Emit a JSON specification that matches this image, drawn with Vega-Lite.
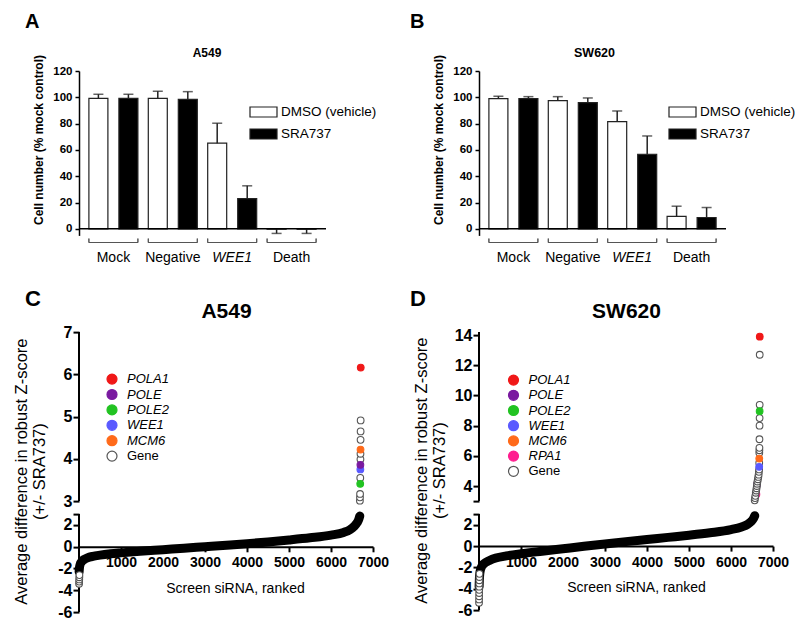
{
  "$schema": "https://vega.github.io/schema/vega-lite/v6.json",
  "padding": {"left": 12, "top": 12, "right": 5, "bottom": 5},
  "config": {
    "font": "Liberation Sans",
    "view": {"stroke": null},
    "axis": {"grid": false, "domainColor": "#000", "tickColor": "#000", "labelColor": "#000", "titleColor": "#000", "labelOverlap": false},
    "legend": {"labelColor": "#000"},
    "title": {"color": "#000"}
  },
  "datasets": {
    "bars": [
      {"cell": "A549", "group": "Mock", "treatment": "DMSO (vehicle)", "value": 99.2, "err_end": 102.3},
      {"cell": "A549", "group": "Mock", "treatment": "SRA737", "value": 99.2, "err_end": 102.3},
      {"cell": "A549", "group": "Negative", "treatment": "DMSO (vehicle)", "value": 99.2, "err_end": 104.6},
      {"cell": "A549", "group": "Negative", "treatment": "SRA737", "value": 98.5, "err_end": 104.3},
      {"cell": "A549", "group": "WEE1", "treatment": "DMSO (vehicle)", "value": 65.1, "err_end": 80.3},
      {"cell": "A549", "group": "WEE1", "treatment": "SRA737", "value": 23.0, "err_end": 32.7},
      {"cell": "A549", "group": "Death", "treatment": "DMSO (vehicle)", "value": -0.3, "err_end": -3.5},
      {"cell": "A549", "group": "Death", "treatment": "SRA737", "value": -0.3, "err_end": -3.5},
      {"cell": "SW620", "group": "Mock", "treatment": "DMSO (vehicle)", "value": 99.0, "err_end": 100.8},
      {"cell": "SW620", "group": "Mock", "treatment": "SRA737", "value": 99.0, "err_end": 100.5},
      {"cell": "SW620", "group": "Negative", "treatment": "DMSO (vehicle)", "value": 97.5, "err_end": 100.5},
      {"cell": "SW620", "group": "Negative", "treatment": "SRA737", "value": 96.0, "err_end": 99.5},
      {"cell": "SW620", "group": "WEE1", "treatment": "DMSO (vehicle)", "value": 81.5, "err_end": 89.6},
      {"cell": "SW620", "group": "WEE1", "treatment": "SRA737", "value": 56.7, "err_end": 70.6},
      {"cell": "SW620", "group": "Death", "treatment": "DMSO (vehicle)", "value": 9.4, "err_end": 17.2},
      {"cell": "SW620", "group": "Death", "treatment": "SRA737", "value": 8.6, "err_end": 16.2}
    ],
    "curve": [
      {"cell": "A549", "rank": 3, "z": -2.3}, {"cell": "A549", "rank": 10, "z": -1.95}, {"cell": "A549", "rank": 25, "z": -1.65},
      {"cell": "A549", "rank": 60, "z": -1.38}, {"cell": "A549", "rank": 120, "z": -1.17}, {"cell": "A549", "rank": 200, "z": -1.02},
      {"cell": "A549", "rank": 330, "z": -0.88}, {"cell": "A549", "rank": 500, "z": -0.77}, {"cell": "A549", "rank": 750, "z": -0.65},
      {"cell": "A549", "rank": 1000, "z": -0.56}, {"cell": "A549", "rank": 1450, "z": -0.42}, {"cell": "A549", "rank": 2000, "z": -0.27},
      {"cell": "A549", "rank": 2500, "z": -0.13}, {"cell": "A549", "rank": 3000, "z": 0.0}, {"cell": "A549", "rank": 3600, "z": 0.16},
      {"cell": "A549", "rank": 4000, "z": 0.28}, {"cell": "A549", "rank": 4500, "z": 0.44}, {"cell": "A549", "rank": 5000, "z": 0.62},
      {"cell": "A549", "rank": 5500, "z": 0.82}, {"cell": "A549", "rank": 6000, "z": 1.07}, {"cell": "A549", "rank": 6300, "z": 1.32},
      {"cell": "A549", "rank": 6450, "z": 1.57}, {"cell": "A549", "rank": 6550, "z": 1.87}, {"cell": "A549", "rank": 6620, "z": 2.2},
      {"cell": "A549", "rank": 6660, "z": 2.5}, {"cell": "A549", "rank": 6685, "z": 2.82},
      {"cell": "SW620", "rank": 3, "z": -3.8}, {"cell": "SW620", "rank": 10, "z": -3.0}, {"cell": "SW620", "rank": 25, "z": -2.4},
      {"cell": "SW620", "rank": 60, "z": -1.95}, {"cell": "SW620", "rank": 120, "z": -1.65}, {"cell": "SW620", "rank": 250, "z": -1.35},
      {"cell": "SW620", "rank": 400, "z": -1.12}, {"cell": "SW620", "rank": 650, "z": -0.92}, {"cell": "SW620", "rank": 1000, "z": -0.72},
      {"cell": "SW620", "rank": 1500, "z": -0.48}, {"cell": "SW620", "rank": 2000, "z": -0.25}, {"cell": "SW620", "rank": 2500, "z": -0.02},
      {"cell": "SW620", "rank": 3000, "z": 0.2}, {"cell": "SW620", "rank": 3500, "z": 0.42}, {"cell": "SW620", "rank": 4000, "z": 0.62},
      {"cell": "SW620", "rank": 4500, "z": 0.82}, {"cell": "SW620", "rank": 5000, "z": 1.02}, {"cell": "SW620", "rank": 5500, "z": 1.25},
      {"cell": "SW620", "rank": 6000, "z": 1.55}, {"cell": "SW620", "rank": 6250, "z": 1.8}, {"cell": "SW620", "rank": 6400, "z": 2.05},
      {"cell": "SW620", "rank": 6480, "z": 2.3}, {"cell": "SW620", "rank": 6530, "z": 2.55}, {"cell": "SW620", "rank": 6565, "z": 2.85}
    ],
    "points": [
      {"cell": "A549", "rank": 2, "z": -3.4, "gene": "Gene"}, {"cell": "A549", "rank": 4, "z": -3.2, "gene": "Gene"},
      {"cell": "A549", "rank": 6, "z": -3.0, "gene": "Gene"}, {"cell": "A549", "rank": 8, "z": -2.8, "gene": "Gene"},
      {"cell": "A549", "rank": 10, "z": -2.6, "gene": "Gene"},
      {"cell": "A549", "rank": 6688, "z": 3.01, "gene": "Gene"}, {"cell": "A549", "rank": 6690, "z": 3.09, "gene": "Gene"},
      {"cell": "A549", "rank": 6692, "z": 3.17, "gene": "Gene"}, {"cell": "A549", "rank": 6697, "z": 3.55, "gene": "Gene"},
      {"cell": "A549", "rank": 6701, "z": 3.99, "gene": "Gene"}, {"cell": "A549", "rank": 6702, "z": 4.12, "gene": "Gene"},
      {"cell": "A549", "rank": 6704, "z": 4.45, "gene": "Gene"}, {"cell": "A549", "rank": 6705, "z": 4.65, "gene": "Gene"},
      {"cell": "A549", "rank": 6706, "z": 4.91, "gene": "Gene"},
      {"cell": "A549", "rank": 6696, "z": 3.41, "gene": "POLE2"}, {"cell": "A549", "rank": 6699, "z": 3.75, "gene": "WEE1"},
      {"cell": "A549", "rank": 6700, "z": 3.86, "gene": "POLE"}, {"cell": "A549", "rank": 6703, "z": 4.22, "gene": "MCM6"},
      {"cell": "A549", "rank": 6708, "z": 6.16, "gene": "POLA1"},
      {"cell": "SW620", "rank": 6620, "z": 4.1, "gene": "POLE"}, {"cell": "SW620", "rank": 6605, "z": 3.45, "gene": "RPA1"},
      {"cell": "SW620", "rank": 1, "z": -5.3, "gene": "Gene"}, {"cell": "SW620", "rank": 2, "z": -5.0, "gene": "Gene"},
      {"cell": "SW620", "rank": 3, "z": -4.7, "gene": "Gene"}, {"cell": "SW620", "rank": 4, "z": -4.4, "gene": "Gene"},
      {"cell": "SW620", "rank": 5, "z": -4.1, "gene": "Gene"}, {"cell": "SW620", "rank": 6, "z": -3.8, "gene": "Gene"},
      {"cell": "SW620", "rank": 7, "z": -3.5, "gene": "Gene"}, {"cell": "SW620", "rank": 8, "z": -3.2, "gene": "Gene"},
      {"cell": "SW620", "rank": 10, "z": -2.9, "gene": "Gene"}, {"cell": "SW620", "rank": 12, "z": -2.6, "gene": "Gene"},
      {"cell": "SW620", "rank": 6564, "z": 3.05, "gene": "Gene"}, {"cell": "SW620", "rank": 6572, "z": 3.2, "gene": "Gene"},
      {"cell": "SW620", "rank": 6580, "z": 3.35, "gene": "Gene"}, {"cell": "SW620", "rank": 6590, "z": 3.55, "gene": "Gene"},
      {"cell": "SW620", "rank": 6600, "z": 3.7, "gene": "Gene"}, {"cell": "SW620", "rank": 6608, "z": 3.85, "gene": "Gene"},
      {"cell": "SW620", "rank": 6615, "z": 4.0, "gene": "Gene"}, {"cell": "SW620", "rank": 6622, "z": 4.15, "gene": "Gene"},
      {"cell": "SW620", "rank": 6630, "z": 4.3, "gene": "Gene"}, {"cell": "SW620", "rank": 6640, "z": 4.45, "gene": "Gene"},
      {"cell": "SW620", "rank": 6650, "z": 4.6, "gene": "Gene"}, {"cell": "SW620", "rank": 6658, "z": 4.75, "gene": "Gene"},
      {"cell": "SW620", "rank": 6664, "z": 4.94, "gene": "Gene"}, {"cell": "SW620", "rank": 6670, "z": 5.1, "gene": "Gene"},
      {"cell": "SW620", "rank": 6672, "z": 5.53, "gene": "Gene"}, {"cell": "SW620", "rank": 6674, "z": 6.2, "gene": "Gene"},
      {"cell": "SW620", "rank": 6676, "z": 6.37, "gene": "Gene"}, {"cell": "SW620", "rank": 6677, "z": 6.53, "gene": "Gene"},
      {"cell": "SW620", "rank": 6678, "z": 7.1, "gene": "Gene"}, {"cell": "SW620", "rank": 6680, "z": 8.0, "gene": "Gene"},
      {"cell": "SW620", "rank": 6681, "z": 8.5, "gene": "Gene"}, {"cell": "SW620", "rank": 6683, "z": 9.38, "gene": "Gene"},
      {"cell": "SW620", "rank": 6684, "z": 12.7, "gene": "Gene"},
      {"cell": "SW620", "rank": 6671, "z": 5.27, "gene": "WEE1"}, {"cell": "SW620", "rank": 6673, "z": 5.82, "gene": "MCM6"},
      {"cell": "SW620", "rank": 6682, "z": 8.96, "gene": "POLE2"}, {"cell": "SW620", "rank": 6685, "z": 13.9, "gene": "POLA1"}
    ]
  },
  "columns": 2,
  "bounds": "flush",
  "align": "each",
  "spacing": {"row": 96.1, "column": 106},
  "resolve": {"scale": {"fill": "independent", "stroke": "independent"}},
  "concat": [
    {
      "width": 247, "height": 164.4,
      "title": {"text": "A", "anchor": "start", "frame": "group", "dx": -54, "fontSize": 20, "fontWeight": "bold", "baseline": "alphabetic", "offset": -2},
      "data": {"name": "bars"},
      "transform": [{"filter": "datum.cell === 'A549'"}],
      "resolve": {"scale": {"x": "independent"}},
      "layer": [
        {
          "layer": [
            {
              "mark": {"type": "bar", "stroke": "#222", "strokeWidth": 1.2},
              "encoding": {
                "x": {"field": "group", "type": "nominal", "sort": null, "scale": {"paddingInner": 0.175, "paddingOuter": 0.1666},
                  "axis": {"orient": "bottom", "title": null, "domain": false, "ticks": false, "labelPadding": 15, "labelFontSize": 14, "labelAngle": 0, "labelBaseline": "top",
                    "labelFontStyle": {"condition": {"test": "datum.value === 'WEE1'", "value": "italic"}, "value": "normal"}}},
                "xOffset": {"field": "treatment", "type": "nominal", "sort": null, "scale": {"paddingInner": 0.367, "paddingOuter": 0}},
                "y": {"field": "value", "type": "quantitative", "stack": null, "scale": {"domain": [-5, 120], "nice": false, "zero": false},
                  "axis": {"values": [0, 20, 40, 60, 80, 100, 120], "tickCount": 20, "labelOverlap": false, "title": "Cell number (% mock control)", "titleFontSize": 12, "titleFontWeight": "bold",
                    "titleAngle": 270, "titleAlign": "center", "titleBaseline": "alphabetic", "titleX": -36.6, "titleY": 68.5,
                    "labelFontSize": 11.5, "labelFontWeight": "bold", "tickSize": 4, "labelPadding": 3, "domainWidth": 1.5, "tickWidth": 1.5}},
                "fill": {"field": "treatment", "type": "nominal", "scale": {"domain": ["DMSO (vehicle)", "SRA737"], "range": ["#ffffff", "#000000"]},
                  "legend": {"orient": "none", "legendX": 170, "legendY": 26.5, "title": null, "symbolType": "M-1,-0.37H1V0.37H-1Z", "symbolSize": 729,
                    "symbolStrokeColor": "#222", "symbolStrokeWidth": 1.2, "labelFontSize": 13.5, "labelOffset": 3, "rowPadding": -2, "padding": 0}}
              }
            },
            {
              "mark": {"type": "rule", "color": "#222", "strokeWidth": 1.5},
              "encoding": {
                "x": {"field": "group", "type": "nominal", "sort": null},
                "xOffset": {"field": "treatment", "type": "nominal", "sort": null},
                "y": {"field": "value", "type": "quantitative"},
                "y2": {"field": "err_end"}
              }
            },
            {
              "mark": {"type": "tick", "color": "#222", "thickness": 1.5, "size": 10},
              "encoding": {
                "x": {"field": "group", "type": "nominal", "sort": null},
                "xOffset": {"field": "treatment", "type": "nominal", "sort": null},
                "y": {"field": "err_end", "type": "quantitative"}
              }
            },
            {
              "mark": {"type": "rule", "color": "#555", "strokeWidth": 1},
              "encoding": {
                "x": {"field": "group", "type": "nominal", "sort": null, "bandPosition": 0},
                "x2": {"field": "group", "bandPosition": 1},
                "y": {"datum": -10.4}
              }
            },
            {
              "mark": {"type": "rule", "color": "#555", "strokeWidth": 1},
              "encoding": {
                "x": {"field": "group", "type": "nominal", "sort": null, "bandPosition": 0},
                "y": {"datum": -10.4}, "y2": {"datum": -7.4}
              }
            },
            {
              "mark": {"type": "rule", "color": "#555", "strokeWidth": 1},
              "encoding": {
                "x": {"field": "group", "type": "nominal", "sort": null, "bandPosition": 1},
                "y": {"datum": -10.4}, "y2": {"datum": -7.4}
              }
            }
          ]
        },
        {
          "data": {"values": [{}]},
          "mark": {"type": "rule", "color": "#000", "strokeWidth": 1.5},
          "encoding": {"y": {"datum": 0}}
        },
        {
          "mark": {"type": "point", "opacity": 0},
          "encoding": {
            "x": {"field": "treatment", "type": "nominal", "axis": {"orient": "top", "title": "A549", "titleFontSize": 12, "titleFontWeight": "bold", "titlePadding": 14.8, "titleBaseline": "alphabetic", "titleX": 127.5, "titleAlign": "center", "labels": false, "ticks": false, "domain": false}}
          }
        }
      ]
    },
    {
      "width": 247, "height": 164.4,
      "title": {"text": "B", "anchor": "start", "frame": "group", "dx": -69, "fontSize": 20, "fontWeight": "bold", "baseline": "alphabetic", "offset": -2},
      "data": {"name": "bars"},
      "transform": [{"filter": "datum.cell === 'SW620'"}],
      "resolve": {"scale": {"x": "independent"}},
      "layer": [
        {
          "layer": [
            {
              "mark": {"type": "bar", "stroke": "#222", "strokeWidth": 1.2},
              "encoding": {
                "x": {"field": "group", "type": "nominal", "sort": null, "scale": {"paddingInner": 0.175, "paddingOuter": 0.1666},
                  "axis": {"orient": "bottom", "title": null, "domain": false, "ticks": false, "labelPadding": 15, "labelFontSize": 14, "labelAngle": 0, "labelBaseline": "top",
                    "labelFontStyle": {"condition": {"test": "datum.value === 'WEE1'", "value": "italic"}, "value": "normal"}}},
                "xOffset": {"field": "treatment", "type": "nominal", "sort": null, "scale": {"paddingInner": 0.367, "paddingOuter": 0}},
                "y": {"field": "value", "type": "quantitative", "stack": null, "scale": {"domain": [-5, 120], "nice": false, "zero": false},
                  "axis": {"values": [0, 20, 40, 60, 80, 100, 120], "tickCount": 20, "labelOverlap": false, "title": "Cell number (% mock control)", "titleFontSize": 12, "titleFontWeight": "bold",
                    "titleAngle": 270, "titleAlign": "center", "titleBaseline": "alphabetic", "titleX": -36.6, "titleY": 68.5,
                    "labelFontSize": 11.5, "labelFontWeight": "bold", "tickSize": 4, "labelPadding": 3, "domainWidth": 1.5, "tickWidth": 1.5}},
                "fill": {"field": "treatment", "type": "nominal", "scale": {"domain": ["DMSO (vehicle)", "SRA737"], "range": ["#ffffff", "#000000"]},
                  "legend": {"orient": "none", "legendX": 189, "legendY": 26.5, "title": null, "symbolType": "M-1,-0.37H1V0.37H-1Z", "symbolSize": 729,
                    "symbolStrokeColor": "#222", "symbolStrokeWidth": 1.2, "labelFontSize": 13.5, "labelOffset": 3, "rowPadding": -2, "padding": 0}}
              }
            },
            {
              "mark": {"type": "rule", "color": "#222", "strokeWidth": 1.5},
              "encoding": {
                "x": {"field": "group", "type": "nominal", "sort": null},
                "xOffset": {"field": "treatment", "type": "nominal", "sort": null},
                "y": {"field": "value", "type": "quantitative"},
                "y2": {"field": "err_end"}
              }
            },
            {
              "mark": {"type": "tick", "color": "#222", "thickness": 1.5, "size": 10},
              "encoding": {
                "x": {"field": "group", "type": "nominal", "sort": null},
                "xOffset": {"field": "treatment", "type": "nominal", "sort": null},
                "y": {"field": "err_end", "type": "quantitative"}
              }
            },
            {
              "mark": {"type": "rule", "color": "#555", "strokeWidth": 1},
              "encoding": {
                "x": {"field": "group", "type": "nominal", "sort": null, "bandPosition": 0},
                "x2": {"field": "group", "bandPosition": 1},
                "y": {"datum": -10.4}
              }
            },
            {
              "mark": {"type": "rule", "color": "#555", "strokeWidth": 1},
              "encoding": {
                "x": {"field": "group", "type": "nominal", "sort": null, "bandPosition": 0},
                "y": {"datum": -10.4}, "y2": {"datum": -7.4}
              }
            },
            {
              "mark": {"type": "rule", "color": "#555", "strokeWidth": 1},
              "encoding": {
                "x": {"field": "group", "type": "nominal", "sort": null, "bandPosition": 1},
                "y": {"datum": -10.4}, "y2": {"datum": -7.4}
              }
            }
          ]
        },
        {
          "data": {"values": [{}]},
          "mark": {"type": "rule", "color": "#000", "strokeWidth": 1.5},
          "encoding": {"y": {"datum": 0}}
        },
        {
          "mark": {"type": "point", "opacity": 0},
          "encoding": {
            "x": {"field": "treatment", "type": "nominal", "axis": {"orient": "top", "title": "SW620", "titleFontSize": 12.5, "titleFontWeight": "bold", "titlePadding": 14.8, "titleBaseline": "alphabetic", "titleX": 115, "titleAlign": "center", "labels": false, "ticks": false, "domain": false}}
          }
        }
      ]
    },
    {
      "width": 294, "height": 280,
      "title": {"text": "C", "anchor": "start", "frame": "group", "dx": -54, "fontSize": 22, "fontWeight": "bold", "baseline": "alphabetic", "offset": -28},
      "resolve": {"scale": {"x": "independent"}},
      "layer": [
        {
          "layer": [
            {
              "data": {"values": [{}]},
              "mark": {"type": "rule", "color": "#000", "strokeWidth": 2},
              "encoding": {"x": {"datum": 0}, "y": {"datum": -6}, "y2": {"datum": 3}}
            },
            {
              "data": {"values": [{}]},
              "mark": {"type": "rule", "color": "#000", "strokeWidth": 2},
              "encoding": {"x": {"datum": 0}, "y": {"datum": 3.001}, "y2": {"datum": 7}}
            },
            {
              "data": {"name": "curve"},
              "transform": [{"filter": "datum.cell === 'A549'"}],
              "mark": {"type": "line", "color": "#000", "strokeWidth": 9, "strokeCap": "round", "strokeJoin": "round", "interpolate": "monotone"},
              "encoding": {
                "x": {"field": "rank", "type": "quantitative", "scale": {"domain": [0, 7000], "nice": false, "zero": false},
                  "axis": {"orient": "bottom", "offset": -65.3, "values": [1000, 2000, 3000, 4000, 5000, 6000, 7000], "tickCount": 20, "format": "d",
                    "title": "Screen siRNA, ranked", "titleFontSize": 14, "titleFontWeight": "normal", "titleX": 156, "titleY": 45.3, "titleBaseline": "alphabetic", "titleAlign": "center",
                    "labelFontSize": 14, "labelFontWeight": "bold", "tickSize": 5, "labelPadding": 4, "domainWidth": 2, "tickWidth": 2, "labelFlush": false, "labelOverlap": false}},
                "y": {"field": "z", "type": "quantitative", "scale": {"domain": [-6, 3, 3.001, 7], "range": [280, 182, 169, 0], "nice": false, "zero": false},
                  "axis": {"values": [-6, -4, -2, 0, 2, 3, 3.001, 4, 5, 6, 7], "tickCount": 30, "labelExpr": "datum.value === 3 ? '' : '' + round(datum.value)", "domain": false, "labelOverlap": false,
                    "title": ["Average difference in robust Z-score", "(+/- SRA737)"], "titleFontSize": 16.5, "titleFontWeight": "normal",
                    "titleAngle": 270, "titleAlign": "center", "titleBaseline": "alphabetic", "titleX": -53, "titleY": 139, "titleLineHeight": 18,
                    "labelFontSize": 16, "labelFontWeight": "bold", "tickSize": 6, "labelPadding": 1, "tickWidth": 2}}
              }
            },
            {
              "data": {"name": "points"},
              "transform": [{"filter": "datum.cell === 'A549'"}],
              "mark": {"type": "point", "filled": true, "size": 45, "strokeWidth": 1.1, "opacity": 1},
              "encoding": {
                "x": {"field": "rank", "type": "quantitative"},
                "y": {"field": "z", "type": "quantitative"},
                "fill": {"field": "gene", "type": "nominal",
                  "scale": {"domain": ["POLA1", "POLE", "POLE2", "WEE1", "MCM6", "Gene"], "range": ["#f01818", "#7a1aa0", "#22c322", "#5a5aff", "#ff6a1a", "#ffffff"]},
                  "legend": {"orient": "none", "legendX": 26.5, "legendY": 40.5, "title": null, "symbolSize": 100, "symbolStrokeWidth": 1.2, "labelFontSize": 13, "labelOffset": 8.5, "rowPadding": 0.4, "padding": 0,
                    "labelFontStyle": {"expr": "datum.value === 'Gene' ? 'normal' : 'italic'"},
                    "encode": {
                      "symbols": {"update": {"stroke": {"signal": "datum.value === 'Gene' ? '#333' : 'transparent'"}}}
                    }}},
                "stroke": {"field": "gene", "type": "nominal",
                  "scale": {"domain": ["POLA1", "POLE", "POLE2", "WEE1", "MCM6", "Gene"], "range": ["#f01818", "#7a1aa0", "#22c322", "#5a5aff", "#ff6a1a", "#555555"]},
                  "legend": null}
              }
            }
          ]
        },
        {
          "data": {"name": "points"},
          "transform": [{"filter": "datum.cell === 'A549'"}],
          "mark": {"type": "point", "opacity": 0},
          "encoding": {
            "x": {"field": "rank", "type": "quantitative", "axis": {"orient": "top", "title": "A549", "titleFontSize": 21, "titleFontWeight": "bold", "titlePadding": 15, "titleBaseline": "alphabetic", "labels": false, "ticks": false, "domain": false}}
          }
        }
      ]
    },
    {
      "width": 294, "height": 278,
      "title": {"text": "D", "anchor": "start", "frame": "group", "dx": -69, "fontSize": 22, "fontWeight": "bold", "baseline": "alphabetic", "offset": -28},
      "resolve": {"scale": {"x": "independent"}},
      "layer": [
        {
          "layer": [
            {
              "data": {"values": [{}]},
              "mark": {"type": "rule", "color": "#000", "strokeWidth": 2},
              "encoding": {"x": {"datum": 0}, "y": {"datum": -6}, "y2": {"datum": 3}}
            },
            {
              "data": {"values": [{}]},
              "mark": {"type": "rule", "color": "#000", "strokeWidth": 2},
              "encoding": {"x": {"datum": 0}, "y": {"datum": 3.001}, "y2": {"datum": 14.2}}
            },
            {
              "data": {"name": "curve"},
              "transform": [{"filter": "datum.cell === 'SW620'"}],
              "mark": {"type": "line", "color": "#000", "strokeWidth": 9, "strokeCap": "round", "strokeJoin": "round", "interpolate": "monotone"},
              "encoding": {
                "x": {"field": "rank", "type": "quantitative", "scale": {"domain": [0, 7000], "nice": false, "zero": false},
                  "axis": {"orient": "bottom", "offset": -64, "values": [1000, 2000, 3000, 4000, 5000, 6000, 7000], "tickCount": 20, "format": "d",
                    "title": "Screen siRNA, ranked", "titleFontSize": 14, "titleFontWeight": "normal", "titleX": 157, "titleY": 45, "titleBaseline": "alphabetic", "titleAlign": "center",
                    "labelFontSize": 14, "labelFontWeight": "bold", "tickSize": 5, "labelPadding": 4, "domainWidth": 2, "tickWidth": 2, "labelFlush": false, "labelOverlap": false}},
                "y": {"field": "z", "type": "quantitative", "scale": {"domain": [-6, 3, 3.001, 14.2], "range": [278, 182, 169, 0], "nice": false, "zero": false},
                  "axis": {"values": [-6, -4, -2, 0, 2, 3, 3.001, 4, 6, 8, 10, 12, 14], "tickCount": 30, "labelExpr": "(datum.value === 3 || datum.value === 3.001) ? '' : '' + round(datum.value)", "domain": false, "labelOverlap": false,
                    "title": ["Average difference in robust Z-score", "(+/- SRA737)"], "titleFontSize": 16.5, "titleFontWeight": "normal",
                    "titleAngle": 270, "titleAlign": "center", "titleBaseline": "alphabetic", "titleX": -53, "titleY": 138, "titleLineHeight": 18,
                    "labelFontSize": 16, "labelFontWeight": "bold", "tickSize": 6, "labelPadding": 1, "tickWidth": 2}}
              }
            },
            {
              "data": {"name": "points"},
              "transform": [{"filter": "datum.cell === 'SW620'"}],
              "mark": {"type": "point", "filled": true, "size": 45, "strokeWidth": 1.1, "opacity": 1},
              "encoding": {
                "x": {"field": "rank", "type": "quantitative"},
                "y": {"field": "z", "type": "quantitative"},
                "fill": {"field": "gene", "type": "nominal",
                  "scale": {"domain": ["POLA1", "POLE", "POLE2", "WEE1", "MCM6", "RPA1", "Gene"], "range": ["#f01818", "#7a1aa0", "#22c322", "#5a5aff", "#ff6a1a", "#ff1f8f", "#ffffff"]},
                  "legend": {"orient": "none", "legendX": 28, "legendY": 41.5, "title": null, "symbolSize": 100, "symbolStrokeWidth": 1.2, "labelFontSize": 13, "labelOffset": 8.5, "rowPadding": 0.2, "padding": 0,
                    "labelFontStyle": {"expr": "datum.value === 'Gene' ? 'normal' : 'italic'"},
                    "encode": {
                      "symbols": {"update": {"stroke": {"signal": "datum.value === 'Gene' ? '#333' : 'transparent'"}}}
                    }}},
                "stroke": {"field": "gene", "type": "nominal",
                  "scale": {"domain": ["POLA1", "POLE", "POLE2", "WEE1", "MCM6", "RPA1", "Gene"], "range": ["#f01818", "#7a1aa0", "#22c322", "#5a5aff", "#ff6a1a", "#ff1f8f", "#555555"]},
                  "legend": null}
              }
            }
          ]
        },
        {
          "data": {"name": "points"},
          "transform": [{"filter": "datum.cell === 'SW620'"}],
          "mark": {"type": "point", "opacity": 0},
          "encoding": {
            "x": {"field": "rank", "type": "quantitative", "axis": {"orient": "top", "title": "SW620", "titleFontSize": 21, "titleFontWeight": "bold", "titlePadding": 15, "titleBaseline": "alphabetic", "labels": false, "ticks": false, "domain": false}}
          }
        }
      ]
    }
  ]
}
